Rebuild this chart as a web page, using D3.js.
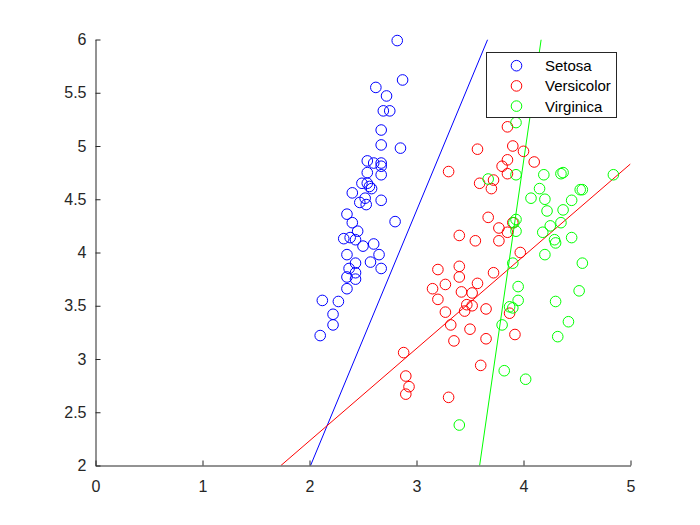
<!DOCTYPE html>
<html>
<head>
<meta charset="utf-8">
<script src="https://cdn.jsdelivr.net/npm/d3@7"></script>
<style>
  html, body { margin: 0; padding: 0; background: #fff; }
  svg { display: block; }
  text { font-family: "Liberation Sans", Arial, Helvetica, sans-serif; }
</style>
</head>
<body>
<svg id="chart" width="700" height="525"></svg>
<script>
// ---------- data ----------
const seriesNames = ["Setosa", "Versicolor", "Virginica"];
const seriesColors = ["#0000ff", "#ff0000", "#00ff00"];

const setosaX = [2.82,2.87,2.62,2.72,2.69,2.75,2.67,2.67,2.85,2.54,2.60,2.67,2.67,2.54,2.67,
  2.49,2.54,2.56,2.58,2.40,2.52,2.67,2.47,2.53,2.35,2.80,2.40,2.45,2.32,2.38,2.43,2.50,2.60,
  2.35,2.65,2.43,2.57,2.67,2.37,2.43,2.35,2.43,2.35,2.12,2.27,2.22,2.22,2.10];
const setosaY = [5.99,5.62,5.55,5.47,5.33,5.33,5.15,5.01,4.98,4.86,4.84,4.84,4.81,4.75,4.73,
  4.65,4.65,4.62,4.60,4.56,4.51,4.49,4.47,4.45,4.36,4.29,4.28,4.20,4.13,4.14,4.12,4.06,4.08,
  3.98,3.98,3.90,3.91,3.85,3.85,3.81,3.77,3.75,3.66,3.55,3.54,3.42,3.32,3.22];

const versicolorX = [3.85,3.57,3.90,4.00,4.10,3.85,3.80,3.30,3.85,3.59,3.72,3.70,3.67,3.90,3.77,3.85,3.40,
  3.55,3.77,3.97,3.20,3.40,3.40,3.72,3.27,3.57,3.15,3.42,3.52,3.20,3.47,3.52,3.45,3.65,3.27,3.87,
  3.32,3.50,3.92,3.35,3.65,2.88,2.90,2.93,2.90,3.30,3.60];
const versicolorY = [5.18,4.97,5.00,4.95,4.85,4.87,4.81,4.76,4.74,4.65,4.68,4.60,4.33,4.28,4.23,4.19,4.16,
  4.11,4.11,4.00,3.84,3.87,3.77,3.81,3.70,3.71,3.66,3.63,3.62,3.56,3.51,3.50,3.45,3.47,3.44,3.43,
  3.32,3.28,3.23,3.17,3.19,3.06,2.84,2.74,2.67,2.64,2.94];

const virginicaX = [3.93,3.93,4.19,4.35,4.37,4.84,3.67,4.15,4.53,4.55,4.07,4.20,4.45,4.22,4.37,4.35,4.25,
  3.93,3.91,3.93,4.18,4.45,4.29,4.30,4.20,4.55,3.90,3.95,4.52,3.95,4.30,3.87,3.90,4.42,3.80,4.32,
  3.82,4.02,3.40];
const virginicaY = [5.22,4.73,4.73,4.74,4.75,4.73,4.69,4.60,4.59,4.59,4.51,4.50,4.49,4.39,4.40,4.28,4.25,
  4.31,4.28,4.20,4.19,4.14,4.12,4.09,3.98,3.90,3.90,3.68,3.64,3.55,3.54,3.49,3.48,3.35,3.32,3.21,
  2.89,2.81,2.38];

// fitted lines (endpoints in data units)
const setosaLineX = [2.01, 3.665];
const setosaLineY = [2, 6];
const versicolorLineX = [1.733, 5];
const versicolorLineY = [2, 4.832];
const virginicaLineX = [3.59, 4.165];
const virginicaLineY = [2, 6];

const xTicks = [0, 1, 2, 3, 4, 5];
const yTicks = [2, 2.5, 3, 3.5, 4, 4.5, 5, 5.5, 6];

// ---------- layout ----------
const svg = d3.select("#chart");
const mLeft = 95.5, mRight = 630.5, mTop = 39.5, mBottom = 465.5;
const axisColor = "#262626";

const x = d3.scaleLinear().domain([0, 5]).range([mLeft, mRight]);
const y = d3.scaleLinear().domain([2, 6]).range([mBottom, mTop]);

const clipId = "plotclip";
svg.append("defs").append("clipPath").attr("id", clipId)
  .append("rect").attr("x", mLeft).attr("y", mTop).attr("width", mRight - mLeft).attr("height", mBottom - mTop);

const plot = svg.append("g").attr("clip-path", `url(#${clipId})`);

const series = [
  {xs: setosaX, ys: setosaY, lx: setosaLineX, ly: setosaLineY},
  {xs: versicolorX, ys: versicolorY, lx: versicolorLineX, ly: versicolorLineY},
  {xs: virginicaX, ys: virginicaY, lx: virginicaLineX, ly: virginicaLineY}
];

// points
series.forEach((s, i) => {
  const pts = s.xs.map((v, j) => [v, s.ys[j]]);
  svg.append("g").selectAll("circle").data(pts).join("circle")
    .attr("cx", d => x(d[0])).attr("cy", d => y(d[1]))
    .attr("r", 5.3)
    .attr("fill", "none")
    .attr("stroke", seriesColors[i])
    .attr("stroke-width", 1);
});

// lines
const lineGen = d3.line().x(d => x(d[0])).y(d => y(d[1]));
series.forEach((s, i) => {
  const pts = s.lx.map((v, j) => [v, s.ly[j]]);
  plot.append("path").datum(pts)
    .attr("d", lineGen)
    .attr("fill", "none")
    .attr("stroke", seriesColors[i])
    .attr("stroke-width", 1);
});

// axes
const xAxis = d3.axisBottom(x).tickValues(xTicks).tickFormat(d3.format("d"))
  .tickSizeInner(-5).tickSizeOuter(0).tickPadding(15);
const yAxis = d3.axisLeft(y).tickValues(yTicks).tickFormat(d => String(d))
  .tickSizeInner(-5).tickSizeOuter(0).tickPadding(9);

const gx = svg.append("g").attr("transform", `translate(0,${mBottom})`).call(xAxis);
const gy = svg.append("g").attr("transform", `translate(${mLeft},0)`).call(yAxis);
[gx, gy].forEach(g => {
  g.select(".domain").attr("stroke", axisColor).attr("stroke-width", 1);
  g.selectAll(".tick line").attr("stroke", axisColor);
  g.selectAll(".tick text").attr("fill", axisColor).attr("font-size", "16px")
    .attr("font-family", "'Liberation Sans', Arial, Helvetica, sans-serif");
});

// legend
const lg = svg.append("g");
lg.append("rect").attr("x", 486.5).attr("y", 52.5).attr("width", 130).attr("height", 65)
  .attr("fill", "#fff").attr("stroke", axisColor).attr("stroke-width", 1);
seriesNames.forEach((name, i) => {
  const cy = 65.7 + i * 20.2;
  lg.append("circle").attr("cx", 516.5).attr("cy", cy).attr("r", 5.3)
    .attr("fill", "none").attr("stroke", seriesColors[i]).attr("stroke-width", 1);
  lg.append("text").attr("x", 545).attr("y", cy).attr("dy", "0.36em")
    .attr("font-size", "15px").attr("fill", "#000").text(name);
});
</script>
</body>
</html>
